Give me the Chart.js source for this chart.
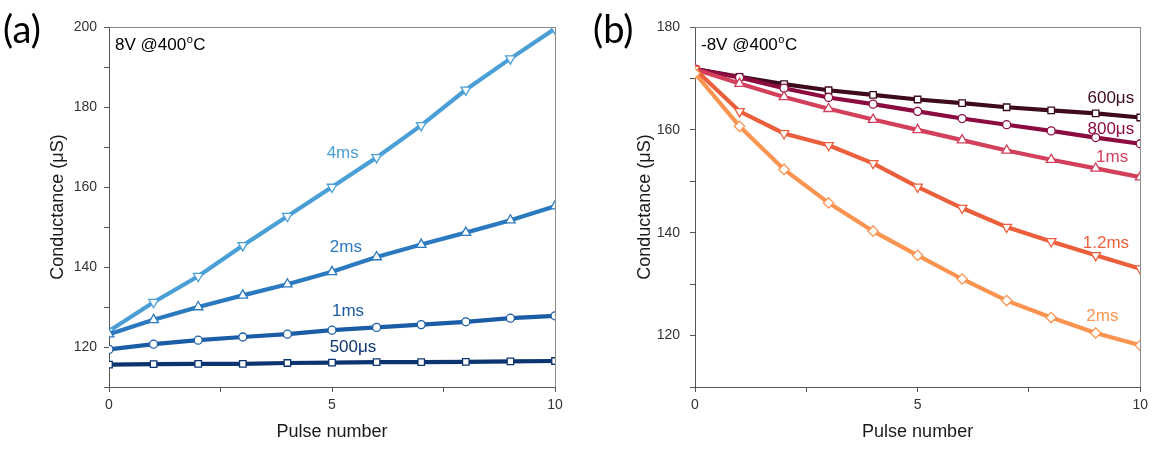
<!DOCTYPE html>
<html>
<head>
<meta charset="utf-8">
<script src="https://cdn.jsdelivr.net/npm/chart.js@4.4.1/dist/chart.umd.min.js"></script>
<style>
  html, body { margin: 0; padding: 0; background: #ffffff; }
  #wrap { position: relative; width: 1153px; height: 450px; overflow: hidden; }
  canvas { position: absolute; top: 0; }
  #ca { left: 0; }
  #cb { left: 576px; }
</style>
</head>
<body>
<div id="wrap">
  <canvas id="ca" width="576" height="450"></canvas>
  <canvas id="cb" width="577" height="450"></canvas>
</div>
<script>
// ---------------- data ----------------
const pulses = [0, 1, 2, 3, 4, 5, 6, 7, 8, 9, 10];

// panel (a): 8V @400 oC
const a_4ms   = [124.0, 131.2, 137.7, 145.4, 152.7, 160.0, 167.4, 175.4, 184.3, 192.1, 199.6];
const a_2ms   = [123.2, 126.8, 130.0, 132.9, 135.7, 138.8, 142.5, 145.6, 148.6, 151.7, 155.2];
const a_1ms   = [119.4, 120.7, 121.7, 122.5, 123.2, 124.2, 124.9, 125.6, 126.3, 127.2, 127.8];
const a_500us = [115.6, 115.7, 115.8, 115.8, 116.0, 116.1, 116.2, 116.2, 116.3, 116.4, 116.5];

// panel (b): -8V @400 oC
const b_600us = [171.8, 170.3, 168.9, 167.7, 166.8, 165.9, 165.2, 164.4, 163.8, 163.2, 162.4];
const b_800us = [171.8, 170.2, 168.1, 166.3, 165.0, 163.6, 162.2, 161.0, 159.8, 158.5, 157.3];
const b_1ms   = [171.8, 169.0, 166.4, 164.1, 162.0, 160.0, 158.0, 156.0, 154.2, 152.5, 150.8];
const b_1p2ms = [171.8, 163.6, 159.3, 157.0, 153.5, 148.9, 144.8, 141.1, 138.3, 135.6, 133.0];
const b_2ms   = [171.0, 160.7, 152.3, 145.8, 140.3, 135.6, 131.0, 126.8, 123.5, 120.5, 118.1];

// tick labels
const xTickLabels  = [0, 5, 10];
const aYTickLabels = [120, 140, 160, 180, 200];
const bYTickLabels = [120, 140, 160, 180];

// series names
const aNames = ['4ms', '2ms', '1ms', '500\u03bcs'];
const bNames = ['600\u03bcs', '800\u03bcs', '1ms', '1.2ms', '2ms'];

// ---------------- styling ----------------
const FONT = '"Liberation Sans", Arial, sans-serif';
const aColors = ['#4a9fd6', '#2b79bf', '#1b5ca6', '#0c3470'];
const bColors = ['#3e0a1d', '#8c0c40', '#d3405b', '#ec5f3d', '#fb9450'];
const markerRadius = { triangle: 5.5, circle: 4, rect: 4.6, rectRot: 5.2 };

function series(values, color, style, rot) {
  const r = markerRadius[style];
  return {
    data: pulses.map((p, i) => ({ x: p, y: values[i] })),
    borderColor: color,
    backgroundColor: color,
    borderWidth: 4.2,
    pointStyle: style,
    pointRotation: rot || 0,
    pointRadius: r,
    pointHoverRadius: r,
    pointBorderWidth: 1.3,
    pointBackgroundColor: '#ffffff',
    pointBorderColor: color,
    tension: 0,
    clip: 0
  };
}

function frameAndText(cfg) {
  return {
    id: 'frameText' + cfg.key,
    afterDraw(chart) {
      const ctx = chart.ctx;
      const ca = chart.chartArea;
      const xs = chart.scales.x, ys = chart.scales.y;
      ctx.save();
      // top and right frame
      ctx.strokeStyle = '#8a8a8a';
      ctx.lineWidth = 1;
      ctx.beginPath();
      ctx.moveTo(ca.left, Math.round(ca.top) + 0.5);
      ctx.lineTo(ca.right, Math.round(ca.top) + 0.5);
      ctx.moveTo(Math.round(ca.right) + 0.5, ca.top);
      ctx.lineTo(Math.round(ca.right) + 0.5, ca.bottom);
      ctx.stroke();

      // panel letter
      ctx.fillStyle = '#000000';
      ctx.font = '38px Lato, "Open Sans", sans-serif';
      ctx.textBaseline = 'middle';
      ctx.textAlign = 'left';
      ctx.fillText(cfg.letter, cfg.letterX, 31);

      // condition annotation with superscript o
      ctx.font = '17px ' + FONT;
      ctx.textBaseline = 'alphabetic';
      let x = ca.left + 6, y = ca.top + 23;
      ctx.fillText(cfg.cond, x, y);
      x += ctx.measureText(cfg.cond).width;
      ctx.font = '11px ' + FONT;
      ctx.fillText('o', x + 0.5, y - 7);
      x += ctx.measureText('o').width + 1;
      ctx.font = '17px ' + FONT;
      ctx.fillText('C', x, y);

      // series labels (data coordinates)
      ctx.font = '17px ' + FONT;
      ctx.textAlign = 'center';
      ctx.textBaseline = 'middle';
      cfg.labels.forEach(l => {
        ctx.fillStyle = l.color;
        ctx.fillText(l.text, xs.getPixelForValue(l.x), ys.getPixelForValue(l.y));
      });
      ctx.restore();
    }
  };
}

function makeOptions(yMin, yMax, yLabels, leftWidth, padRight, titlePad, tickPad) {
  return {
    responsive: false,
    devicePixelRatio: 1,
    animation: false,
    events: [],
    layout: { padding: { top: 27, right: padRight, bottom: 0, left: 0 } },
    plugins: { legend: { display: false }, tooltip: { enabled: false } },
    scales: {
      x: {
        type: 'linear',
        min: 0, max: 10,
        afterFit(s) { s.height = 63; },
        border: { display: true, color: '#555555', width: 1 },
        grid: { drawOnChartArea: false, drawTicks: true, tickLength: 5, color: '#555555', tickColor: '#555555' },
        ticks: {
          stepSize: 2.5, autoSkip: false, maxRotation: 0, padding: 5,
          color: '#333333', font: { family: FONT, size: 14 },
          callback: v => xTickLabels.includes(v) ? String(v) : ''
        },
        title: { display: true, text: 'Pulse number', color: '#1a1a1a',
                 font: { family: FONT, size: 18 }, padding: { top: 0, bottom: 7.5 } }
      },
      y: {
        type: 'linear',
        min: yMin, max: yMax,
        afterFit(s) { s.width = leftWidth; },
        border: { display: true, color: '#555555', width: 1 },
        grid: { drawOnChartArea: false, drawTicks: true, tickLength: 5, color: '#555555', tickColor: '#555555' },
        ticks: {
          stepSize: 10, autoSkip: false, padding: tickPad,
          color: '#333333', font: { family: FONT, size: 14 },
          callback: v => yLabels.includes(v) ? String(v) : ''
        },
        title: { display: true, text: 'Conductance (\u03bcS)', color: '#1a1a1a',
                 font: { family: FONT, size: 18 }, padding: { top: titlePad, bottom: 0 } }
      }
    }
  };
}

// ---------------- panel (a) ----------------
new Chart(document.getElementById('ca'), {
  type: 'line',
  data: {
    datasets: [
      series(a_500us, aColors[3], 'rect'),
      series(a_1ms, aColors[2], 'circle'),
      series(a_2ms, aColors[1], 'triangle'),
      series(a_4ms, aColors[0], 'triangle', 180)
    ]
  },
  options: makeOptions(110, 200, aYTickLabels, 109, 21, 47.5, 7),
  plugins: [frameAndText({
    key: 'a', letter: '(a)', letterX: 3, cond: '8V @400',
    labels: [
      { text: aNames[0], x: 5.24, y: 168.4, color: aColors[0] },
      { text: aNames[1], x: 5.31, y: 145.0, color: aColors[1] },
      { text: aNames[2], x: 5.36, y: 128.9, color: aColors[2] },
      { text: aNames[3], x: 5.47, y: 120.0, color: aColors[3] }
    ]
  })]
});

// ---------------- panel (b) ----------------
new Chart(document.getElementById('cb'), {
  type: 'line',
  data: {
    datasets: [
      series(b_2ms, bColors[4], 'rectRot'),
      series(b_1p2ms, bColors[3], 'triangle', 180),
      series(b_1ms, bColors[2], 'triangle'),
      series(b_800us, bColors[1], 'circle'),
      series(b_600us, bColors[0], 'rect')
    ]
  },
  options: makeOptions(110, 180, bYTickLabels, 119, 12, 58, 10),
  plugins: [frameAndText({
    key: 'b', letter: '(b)', letterX: 17, cond: '-8V @400',
    labels: [
      { text: bNames[0], x: 9.34, y: 166.1, color: bColors[0] },
      { text: bNames[1], x: 9.34, y: 160.2, color: bColors[1] },
      { text: bNames[2], x: 9.37, y: 154.7, color: bColors[2] },
      { text: bNames[3], x: 9.23, y: 137.9, color: bColors[3] },
      { text: bNames[4], x: 9.15, y: 123.7, color: bColors[4] }
    ]
  })]
});
</script>
</body>
</html>
